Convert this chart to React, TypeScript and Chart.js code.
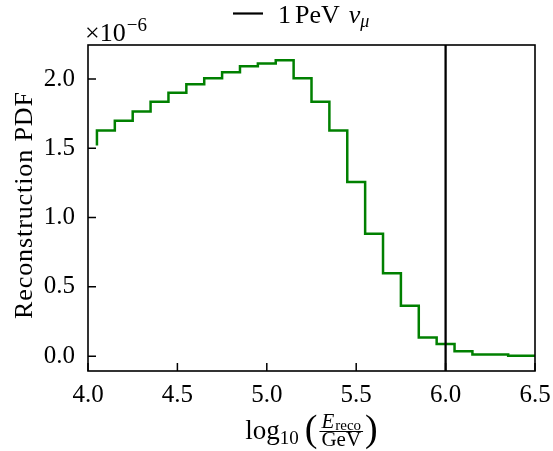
import React, { useEffect, useRef } from 'react';
import { Chart, registerables } from 'chart.js';

Chart.register(...registerables);

// Step histogram: right edges of the bins (first point is the left start of the step line)
const binEdges = [
  4.05, 4.15, 4.25, 4.35, 4.45, 4.55, 4.65, 4.75, 4.85, 4.95,
  5.05, 5.15, 5.25, 5.35, 5.45, 5.55, 5.65, 5.75, 5.85, 5.95,
  6.05, 6.15, 6.25, 6.35, 6.45, 6.55,
];
// Reconstruction PDF values, in units of 1e-6
const pdfValues = [
  1.52, 1.628, 1.698, 1.765, 1.835, 1.9, 1.962, 2.006, 2.049, 2.092,
  2.111, 2.135, 2.006, 1.835, 1.628, 1.256, 0.884, 0.598, 0.363, 0.135,
  0.087, 0.036, 0.012, 0.012, 0.003, 0.003,
];
const pevLine = 6.0; // log10(1 PeV / GeV)
const xTicks = [4.0, 4.5, 5.0, 5.5, 6.0, 6.5];
const yTicks = [0.0, 0.5, 1.0, 1.5, 2.0];
const xMin = 4.0;
const xMax = 6.5;
const yMin = -0.107;
const yMax = 2.245;

const SERIF = '"Liberation Serif", "DejaVu Serif", serif';

const overlayPlugin = {
  id: 'overlay',
  afterDraw(chart: any) {
    const ctx = chart.ctx as CanvasRenderingContext2D;
    const { left, right, top, bottom } = chart.chartArea;
    const xs = chart.scales.x;
    const ys = chart.scales.y;
    ctx.save();
    ctx.strokeStyle = '#000';
    ctx.fillStyle = '#000';
    // inward ticks
    ctx.lineWidth = 1.5;
    ctx.beginPath();
    xTicks.forEach((v) => {
      const px = xs.getPixelForValue(v);
      ctx.moveTo(px, bottom);
      ctx.lineTo(px, bottom - 8);
    });
    yTicks.forEach((v) => {
      const py = ys.getPixelForValue(v);
      ctx.moveTo(left, py);
      ctx.lineTo(left + 8, py);
    });
    ctx.stroke();
    // frame
    ctx.lineWidth = 1.6;
    ctx.strokeRect(left, top, right - left, bottom - top);

    // offset text x10^-6
    ctx.textAlign = 'left';
    ctx.textBaseline = 'alphabetic';
    ctx.font = `26px ${SERIF}`;
    const offX = left - 3;
    ctx.fillText('×10', offX, 41);
    const w10 = ctx.measureText('×10').width;
    ctx.font = `19px ${SERIF}`;
    ctx.fillText('−6', offX + w10 + 1, 31);

    // legend
    ctx.lineWidth = 2.2;
    ctx.beginPath();
    ctx.moveTo(233, 13.5);
    ctx.lineTo(263, 13.5);
    ctx.stroke();
    ctx.font = `26px ${SERIF}`;
    let lx = 278;
    ctx.fillText('1', lx, 23);
    lx += ctx.measureText('1').width + 4;
    ctx.fillText('PeV', lx, 23);
    lx += ctx.measureText('PeV').width + 9;
    ctx.font = `italic 26px ${SERIF}`;
    ctx.fillText('ν', lx, 23);
    lx += ctx.measureText('ν').width;
    ctx.font = `italic 18px ${SERIF}`;
    ctx.fillText('μ', lx, 27);

    // y axis title
    ctx.save();
    ctx.translate(32, 205);
    ctx.rotate(-Math.PI / 2);
    ctx.font = `26px ${SERIF}`;
    (ctx as any).letterSpacing = '0.9px';
    ctx.textAlign = 'center';
    ctx.fillText('Reconstruction PDF', 0, 0);
    ctx.restore();

    // x axis title: log10( E_reco / GeV )
    const fBig = `27px ${SERIF}`;
    const fSub = `19px ${SERIF}`;
    const fParen = `38px ${SERIF}`;
    const fFrac = `italic 21px ${SERIF}`;
    const fFracR = `21px ${SERIF}`;
    const fFracSub = `15px ${SERIF}`;
    ctx.font = fBig;
    const wLog = ctx.measureText('log').width;
    ctx.font = fSub;
    const w10s = ctx.measureText('10').width;
    ctx.font = fParen;
    const wP1 = ctx.measureText('(').width;
    const wP2 = ctx.measureText(')').width;
    ctx.font = fFrac;
    const wE = ctx.measureText('E').width;
    ctx.font = fFracSub;
    const wReco = ctx.measureText('reco').width;
    ctx.font = fFracR;
    const wGeV = ctx.measureText('GeV').width;
    const wNum = wE + 1 + wReco;
    const wFrac = Math.max(wNum, wGeV) + 4;
    const gap1 = 6;
    const total = wLog + w10s + gap1 + wP1 + 2 + wFrac + 2 + wP2;
    let tx = (left + right) / 2 - total / 2;
    ctx.textAlign = 'left';
    ctx.font = fBig;
    ctx.fillText('log', tx, 438.5);
    tx += wLog;
    ctx.font = fSub;
    ctx.fillText('10', tx, 444);
    tx += w10s + gap1;
    ctx.font = fParen;
    ctx.fillText('(', tx, 441);
    tx += wP1 + 2;
    const fx = tx;
    ctx.lineWidth = 1;
    ctx.beginPath();
    ctx.moveTo(fx, 431.5);
    ctx.lineTo(fx + wFrac, 431.5);
    ctx.stroke();
    let nx = fx + (wFrac - wNum) / 2;
    ctx.font = fFrac;
    ctx.fillText('E', nx, 427.5);
    nx += wE + 1;
    ctx.font = fFracSub;
    ctx.fillText('reco', nx, 430);
    ctx.font = fFracR;
    ctx.fillText('GeV', fx + (wFrac - wGeV) / 2, 446);
    tx += wFrac + 2;
    ctx.font = fParen;
    ctx.fillText(')', tx, 441);
    ctx.restore();
  },
};

export default function App() {
  const canvasRef = useRef<HTMLCanvasElement | null>(null);

  useEffect(() => {
    if (!canvasRef.current) return;
    const tickFont = { family: SERIF, size: 25 };
    const chart = new Chart(canvasRef.current, {
      type: 'line',
      data: {
        datasets: [
          {
            label: '1 PeV ν_μ',
            data: [
              { x: pevLine, y: yMin },
              { x: pevLine, y: yMax },
            ],
            borderColor: '#000000',
            borderWidth: 2.3,
            pointRadius: 0,
            fill: false,
          },
          {
            label: 'PDF',
            data: binEdges.map((x, i) => ({ x, y: pdfValues[i] })),
            borderColor: '#008000',
            borderWidth: 2.5,
            stepped: 'after',
            pointRadius: 0,
            fill: false,
          },
        ],
      },
      options: {
        responsive: false,
        animation: false,
        events: [],
        layout: { padding: { left: 0, right: 18, top: 45, bottom: 0 } },
        plugins: {
          legend: { display: false },
          tooltip: { enabled: false },
        },
        scales: {
          x: {
            type: 'linear',
            min: xMin,
            max: xMax,
            afterBuildTicks: (s: any) => {
              s.ticks = xTicks.map((v) => ({ value: v }));
            },
            afterFit: (s: any) => {
              s.height = 80;
              s.paddingLeft = 0;
              s.paddingRight = 0;
            },
            grid: { display: false, drawTicks: false },
            border: { display: false },
            ticks: {
              font: tickFont,
              color: '#000',
              padding: 9,
              maxRotation: 0,
              autoSkip: false,
              callback: (v: any) => Number(v).toFixed(1),
            },
          },
          y: {
            type: 'linear',
            min: yMin,
            max: yMax,
            afterBuildTicks: (s: any) => {
              s.ticks = yTicks.map((v) => ({ value: v }));
            },
            afterFit: (s: any) => {
              s.width = 88;
              s.paddingTop = 0;
              s.paddingBottom = 0;
            },
            grid: { display: false, drawTicks: false },
            border: { display: false },
            ticks: {
              font: tickFont,
              color: '#000',
              padding: 13,
              autoSkip: false,
              callback: (v: any) => Number(v).toFixed(1),
            },
          },
        },
      },
      plugins: [overlayPlugin],
    });
    return () => chart.destroy();
  }, []);

  return (
    <div style={{ position: 'fixed', left: 0, top: 0, width: 553, height: 451, background: '#fff' }}>
      <canvas ref={canvasRef} width={553} height={451} style={{ width: 553, height: 451, display: 'block' }} />
    </div>
  );
}
